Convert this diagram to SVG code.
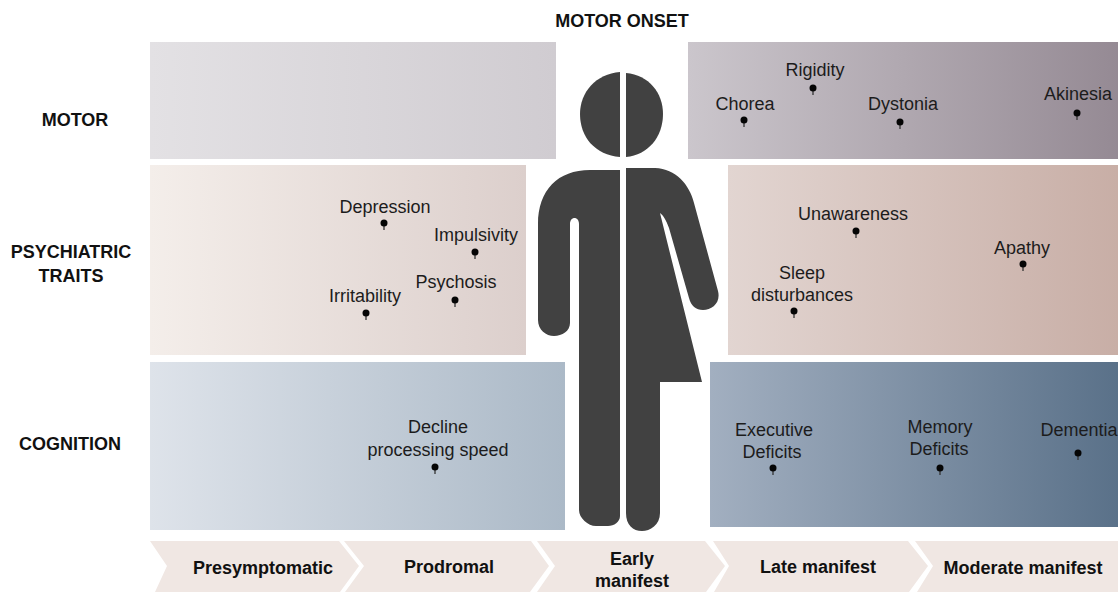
<svg xmlns="http://www.w3.org/2000/svg" width="1118" height="592" viewBox="0 0 1118 592">
<style>
text{font-family:"Liberation Sans",Arial,sans-serif;fill:#1c1c1c}
.l{font-size:18px;text-anchor:middle}
.h{font-size:18px;font-weight:bold;text-anchor:middle;fill:#111}
.s{font-size:18px;font-weight:bold;text-anchor:middle;fill:#111}
.c{fill:#f0e7e3}
.f{fill:#414141}
.p{fill:#050505}
.t{stroke:#333;stroke-width:1.3}
</style>
<defs>
<linearGradient id="g1"><stop offset="0" stop-color="#e3e1e4"/><stop offset="1" stop-color="#d0ccd1"/></linearGradient>
<linearGradient id="g2"><stop offset="0" stop-color="#cbc6cc"/><stop offset="1" stop-color="#958a94"/></linearGradient>
<linearGradient id="g3"><stop offset="0" stop-color="#f4eeea"/><stop offset="1" stop-color="#dccfcc"/></linearGradient>
<linearGradient id="g4"><stop offset="0" stop-color="#e2d5d1"/><stop offset="1" stop-color="#c8aea6"/></linearGradient>
<linearGradient id="g5"><stop offset="0" stop-color="#dee3ea"/><stop offset="1" stop-color="#abb9c7"/></linearGradient>
<linearGradient id="g6"><stop offset="0" stop-color="#a2afc0"/><stop offset="1" stop-color="#5a7189"/></linearGradient>
<g id="pin"><line class="t" x1="0" y1="0" x2="0" y2="7"/><circle class="p" cx="0" cy="0" r="3.5"/></g>
</defs>
<g id="panels">
<rect x="150" y="42" width="406" height="117" fill="url(#g1)"/>
<rect x="688" y="42" width="430" height="117" fill="url(#g2)"/>
<rect x="150" y="165" width="376" height="190" fill="url(#g3)"/>
<rect x="728" y="165" width="390" height="190" fill="url(#g4)"/>
<rect x="150" y="362" width="415" height="168" fill="url(#g5)"/>
<rect x="710" y="362" width="408" height="165" fill="url(#g6)"/>
</g>
<g id="figure">
<path class="f" d="M620 72V157C595 155 580 137 580 114C580 92 596 74 620 72Z"/>
<path class="f" d="M626 73C649 75 663 93 663 114C663 137 648 155 626 157Z"/>
<path class="f" d="M620 170V516C620 522 614 526 608 526H596C588 526 579 518 579 510V224C579 216 570 216 570 224V323C570 331 562 336 554 336C546 336 538 330 538 320V224C538 190 558 170 590 170Z"/>
<path class="f" d="M626 168H655C676 169 689 184 694 203L718 291C721 303 712 310 703 310C696 310 691 306 689 298L669 228C666 220 663 215 660 213L702 382H660V513C660 525 650 531 642 531C633 531 626 525 626 513Z"/>
</g>
<g id="stages">
<path class="c" d="M150 541H339L359 566L340 592H155L167 566Z"/>
<path class="c" d="M344 541H531L549 566L530 592H345L364 566Z"/>
<path class="c" d="M537 541H705L725 566L706 592H537L555 566Z"/>
<path class="c" d="M713 541H908L928 566L909 592H714L729 566Z"/>
<path class="c" d="M915 541H1118V592H917L933 566Z"/>
</g>
<g id="labels">
<text class="h" x="622" y="27">MOTOR ONSET</text>
<text class="h" x="75" y="126">MOTOR</text>
<text class="h" x="71" y="258">PSYCHIATRIC</text>
<text class="h" x="71" y="282">TRAITS</text>
<text class="h" x="70" y="450">COGNITION</text>
<text class="s" x="263" y="574">Presymptomatic</text>
<text class="s" x="449" y="573">Prodromal</text>
<text class="s" x="632" y="565">Early</text>
<text class="s" x="632" y="587">manifest</text>
<text class="s" x="818" y="573">Late manifest</text>
<text class="s" x="1023" y="574">Moderate manifest</text>
</g>
<g id="items">
<text class="l" x="745" y="110">Chorea</text><use href="#pin" x="744" y="120"/>
<text class="l" x="815" y="76">Rigidity</text><use href="#pin" x="813" y="88"/>
<text class="l" x="903" y="110">Dystonia</text><use href="#pin" x="900" y="122"/>
<text class="l" x="1078" y="100">Akinesia</text><use href="#pin" x="1077" y="113"/>
<text class="l" x="385" y="213">Depression</text><use href="#pin" x="384" y="223"/>
<text class="l" x="476" y="241">Impulsivity</text><use href="#pin" x="475" y="252"/>
<text class="l" x="456" y="288">Psychosis</text><use href="#pin" x="455" y="300"/>
<text class="l" x="365" y="302">Irritability</text><use href="#pin" x="366" y="313"/>
<text class="l" x="853" y="220">Unawareness</text><use href="#pin" x="856" y="231"/>
<text class="l" x="1022" y="254">Apathy</text><use href="#pin" x="1023" y="264"/>
<text class="l" x="802" y="279">Sleep</text><text class="l" x="802" y="301">disturbances</text><use href="#pin" x="794" y="311"/>
<text class="l" x="438" y="433">Decline</text><text class="l" x="438" y="456">processing speed</text><use href="#pin" x="435" y="467"/>
<text class="l" x="774" y="436">Executive</text><text class="l" x="772" y="458">Deficits</text><use href="#pin" x="773" y="468"/>
<text class="l" x="940" y="433">Memory</text><text class="l" x="939" y="455">Deficits</text><use href="#pin" x="940" y="468"/>
<text class="l" x="1079" y="436">Dementia</text><use href="#pin" x="1078" y="453"/>
</g>
</svg>
